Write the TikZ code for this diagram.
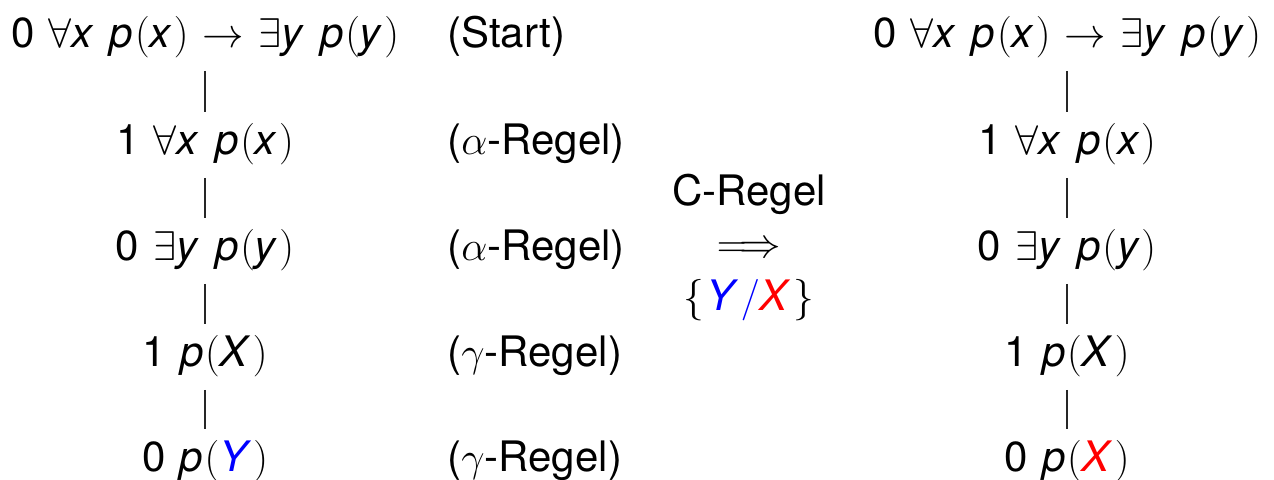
\documentclass[tikz,border=0pt]{standalone}
\usepackage{fontspec}
\setmainfont{TeX Gyre Heros}
\newcommand\vi[1]{\textit{#1}\kern0.04em\relax}
\newcommand\lp{$($}
\newcommand\rp{$)$}
\newcommand\myfont{\fontsize{21}{25}\selectfont\spaceskip=0.34em plus 0.1em\relax}
\begin{document}
\begin{tikzpicture}[x=0.5pt,y=-0.5pt,
  every node/.style={inner sep=0pt,font=\myfont},
  formula/.style={anchor=base},
  rulelabel/.style={anchor=base west},
  link/.style={draw=black!85,line width=0.8pt}]
\useasboundingbox (0,0) rectangle (1274,480);
% left tree
\node[formula] (l1) at (205,48) {0 $\forall$\vi{x} \vi{p}\lp\vi{x}\rp{} $\rightarrow$ $\exists$\vi{y} \vi{p}\lp\vi{y}\rp};
\node[formula] (l2) at (205,155) {1 $\forall$\vi{x} \vi{p}\lp\vi{x}\rp};
\node[formula] (l3) at (205,261) {0 $\exists$\vi{y} \vi{p}\lp\vi{y}\rp};
\node[formula] (l4) at (205,367) {1 \vi{p}\lp\vi{X}\rp};
\node[formula] (l5) at (205,472) {0 \vi{p}\lp\textcolor{blue}{\vi{Y}}\rp};
% labels
\node[rulelabel] (r1) at (447,48) {(Start)};
\node[rulelabel] (r2) at (447,155) {($\alpha$-Regel)};
\node[rulelabel] (r3) at (447,261) {($\alpha$-Regel)};
\node[rulelabel] (r4) at (447,367) {($\gamma$-Regel)};
\node[rulelabel] (r5) at (447,472) {($\gamma$-Regel)};
% middle
\node[formula] (c1) at (749,206) {C-Regel};
\node (c2) at (749,250) {$\Longrightarrow$};
\node[formula] (c3) at (749,311) {$\{$\kern0.06em\textcolor{blue}{\vi{Y}$/$}\textcolor{red}{\vi{X}}\kern0.02em$\}$};
% right tree
\node[formula] (m1) at (1067,48) {0 $\forall$\vi{x} \vi{p}\lp\vi{x}\rp{} $\rightarrow$ $\exists$\vi{y} \vi{p}\lp\vi{y}\rp};
\node[formula] (m2) at (1067,155) {1 $\forall$\vi{x} \vi{p}\lp\vi{x}\rp};
\node[formula] (m3) at (1067,261) {0 $\exists$\vi{y} \vi{p}\lp\vi{y}\rp};
\node[formula] (m4) at (1067,367) {1 \vi{p}\lp\vi{X}\rp};
\node[formula] (m5) at (1067,472) {0 \vi{p}\lp\textcolor{red}{\vi{X}}\rp};
% connectors
\foreach \t in {l,m}{
  \foreach \a/\b in {1/2,2/3,3/4,4/5}{
    \draw[link] ([yshift=-11.5pt]\t\a.base) -- ([yshift=21.5pt]\t\b.base);
  }
}
\end{tikzpicture}
\end{document}
